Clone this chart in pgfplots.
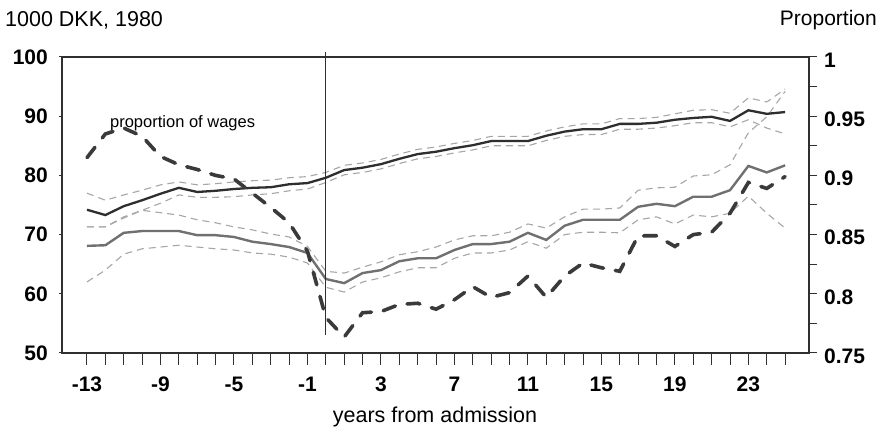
\documentclass[border=0pt]{standalone}
\usepackage{pgfplots}
\pgfplotsset{compat=1.18}
\usepackage{pgfplotstable}
\usepackage{fontspec}
\setmainfont{Liberation Sans}

\definecolor{incdark}{HTML}{2E2E2E}
\definecolor{incgray}{HTML}{707070}
\definecolor{bandgray}{HTML}{A6A6A6}
\definecolor{propdash}{HTML}{3A3A3A}
\definecolor{framecol}{HTML}{303030}

% year, income (1000 DKK) with bands, second income series with bands, proportion of wages
\pgfplotstableread{
year inc incup inclo inctwo inctwoup inctwolo prop
-13 74.2 77.0 71.3 68.1 71.3 62.0 0.915
-12 73.3 75.8 71.3 68.2 71.3 64.0 0.935
-11 74.8 76.7 73.0 70.3 72.8 66.7 0.940
-10 75.8 77.5 74.1 70.6 74.1 67.6 0.933
-9  76.9 78.4 75.3 70.6 73.7 67.9 0.916
-8  77.9 78.9 76.7 70.6 73.3 68.2 0.909
-7  77.2 78.4 76.3 69.9 72.5 67.9 0.905
-6  77.4 78.6 76.3 69.9 72.0 67.6 0.900
-5  77.7 78.9 76.4 69.6 71.3 67.4 0.897
-4  77.9 79.1 76.7 68.8 70.8 66.9 0.885
-3  78.0 79.2 76.9 68.4 70.1 66.7 0.873
-2  78.5 79.6 77.4 67.9 69.6 66.2 0.860
-1  78.7 79.8 77.7 66.9 68.0 65.2 0.836
0   79.6 80.5 78.8 62.5 63.8 61.1 0.780
1   80.9 81.7 80.1 61.8 63.5 60.3 0.7635
2   81.3 82.1 80.5 63.5 64.5 62.0 0.784
3   81.9 82.7 81.1 64.0 65.4 62.7 0.785
4   82.8 83.6 82.0 65.5 66.6 63.7 0.791
5   83.6 84.4 82.8 66.0 67.1 64.4 0.792
6   84.0 84.8 83.2 66.0 67.9 64.4 0.787
7   84.6 85.4 83.8 67.4 69.1 66.0 0.795
8   85.1 85.9 84.3 68.4 69.8 66.9 0.806
9   85.8 86.6 85.0 68.4 69.8 66.9 0.797
10  85.8 86.6 85.0 68.8 70.4 67.4 0.801
11  85.8 86.6 85.0 70.3 71.8 68.8 0.815
12  86.7 87.5 85.9 69.1 71.1 67.7 0.797
13  87.4 88.2 86.6 71.5 73.0 70.0 0.815
14  87.8 88.7 86.9 72.5 74.3 70.4 0.826
15  87.8 88.7 86.9 72.5 74.3 70.4 0.822
16  88.7 89.6 87.8 72.5 74.5 70.3 0.819
17  88.7 89.6 87.8 74.7 77.5 72.5 0.849
18  88.9 89.8 88.0 75.2 77.9 73.0 0.849
19  89.4 90.4 88.4 74.8 78.0 71.8 0.840
20  89.7 91.0 88.9 76.4 79.9 73.3 0.850
21  89.9 91.1 88.9 76.4 80.1 73.0 0.852
22  89.2 90.5 88.2 77.5 81.8 73.6 0.868
23  91.0 93.1 89.4 81.6 87.2 76.5 0.894
24  90.4 92.4 88.0 80.5 89.9 73.6 0.889
25  90.7 94.6 87.0 81.7 94.2 71.1 0.899
}\datatable

\pgfplotsset{
  commonaxis/.style={
    scale only axis, width=747pt, height=296pt,
    at={(0pt,0pt)}, anchor=south west,
    xmin=-14.36, xmax=26.3,
  },
  band/.style={bandgray, line width=1.1pt, dash pattern=on 7pt off 5pt},
  ticklab/.style={font=\fontsize{21}{21}\selectfont\bfseries, inner sep=0pt},
}

\begin{document}
\begin{tikzpicture}
% left axis: income in 1000 DKK
\begin{axis}[
  commonaxis,
  ymin=50, ymax=100,
  clip=false,
  axis line style={framecol, line width=1.4pt},
  xtick=\empty,
  ytick={50,60,70,80,90,100},
  yticklabels={50,60,70,80,90,100},
  ytick pos=left, tick align=outside,
  major tick length=3pt,
  every tick/.style={framecol, line width=1pt},
  yticklabel style={ticklab, anchor=east, xshift=-11pt},
]
\addplot[band] table[x=year, y=incup] {\datatable};
\addplot[band] table[x=year, y=inclo] {\datatable};
\addplot[band] table[x=year, y=inctwoup] {\datatable};
\addplot[band] table[x=year, y=inctwolo] {\datatable};
\addplot[incgray, line width=2.4pt] table[x=year, y=inctwo] {\datatable};
\addplot[incdark, line width=2.3pt] table[x=year, y=inc] {\datatable};
% year of admission
\addplot[framecol, line width=1.3pt] coordinates {(0,53) (0,100.8)};
\node[anchor=west, inner sep=0pt, font=\fontsize{16.5}{16.5}\selectfont]
  at (axis cs:-11.75,88.85) {proportion of wages};
\end{axis}

% right axis: proportion of wages
\begin{axis}[
  commonaxis,
  ymin=0.75, ymax=1,
  hide x axis,
  axis line style={draw=none},
  ytick={0.75,0.8,0.85,0.9,0.95,1},
  yticklabels={0.75,0.8,0.85,0.9,0.95,1},
  minor ytick={0.775,0.825,0.875,0.925,0.975},
  ytick pos=right, tick align=outside,
  major tick length=8pt, minor tick length=8pt,
  every tick/.style={framecol, line width=1pt},
  yticklabel style={ticklab, anchor=west, xshift=7pt, yshift=-3pt},
]
\addplot[propdash, line width=3.6pt, dash pattern=on 13pt off 12pt, line cap=round]
  table[x=year, y=prop] {\datatable};
\end{axis}

% horizontal axis ticks and labels
\begin{axis}[
  commonaxis,
  ymin=50, ymax=100,
  hide y axis,
  axis line style={draw=none},
  xtick={-13,-9,-5,-1,3,7,11,15,19,23},
  xticklabels={-13,-9,-5,-1,3,7,11,15,19,23},
  minor xtick={-12,-11,-10,-8,-7,-6,-4,-3,-2,0,1,2,4,5,6,8,9,10,12,13,14,16,17,18,20,21,22,24,25},
  xtick pos=bottom, tick align=outside,
  major tick length=12pt, minor tick length=12pt,
  every tick/.style={framecol, line width=1pt},
  xticklabel style={ticklab, anchor=north, yshift=-12pt},
]
\end{axis}

\node[anchor=west, inner sep=0pt, font=\fontsize{21.5}{21.5}\selectfont] at (-57pt,333pt) {1000 DKK, 1980};
\node[anchor=east, inner sep=0pt, font=\fontsize{21}{21}\selectfont] at (815pt,333pt) {Proportion};
\node[inner sep=0pt, font=\fontsize{21.5}{21.5}\selectfont] at (373pt,-64pt) {years from admission};

\pgfresetboundingbox
\path (-62pt,-80pt) rectangle (815pt,353pt);
\end{tikzpicture}
\end{document}
